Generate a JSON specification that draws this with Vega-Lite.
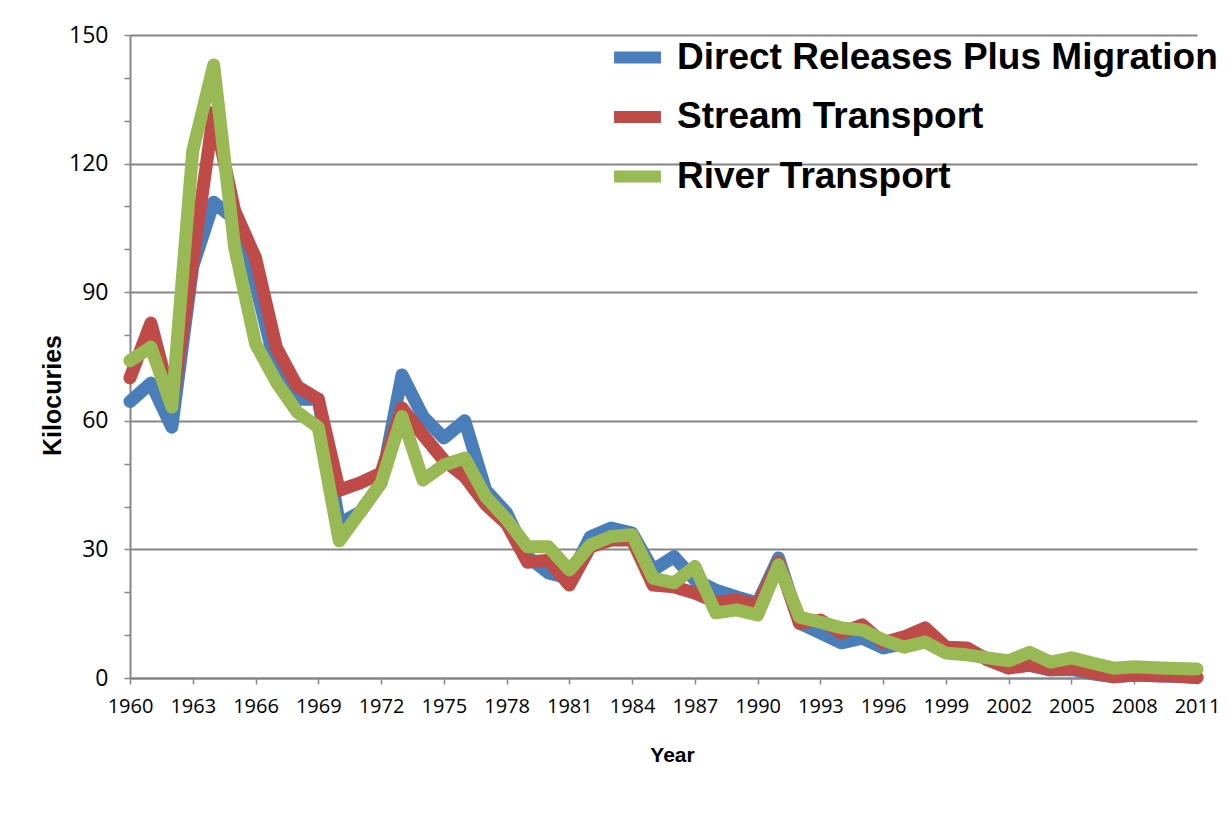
{
  "$schema": "https://vega.github.io/schema/vega-lite/v6.json",
  "autosize": "none",
  "width": 1067,
  "height": 643,
  "padding": {"left": 130, "top": 35, "right": 30, "bottom": 162},
  "background": "white",
  "config": {"view": {"stroke": null}},
  "data": {"values": [
    {"year": 1960, "d": 64.5, "s": 70, "r": 74},
    {"year": 1961, "d": 68.8, "s": 82.8, "r": 77.2},
    {"year": 1962, "d": 58.5, "s": 64, "r": 63.2},
    {"year": 1963, "d": 96, "s": 97, "r": 123},
    {"year": 1964, "d": 111, "s": 132, "r": 143},
    {"year": 1965, "d": 107, "s": 109, "r": 100.5},
    {"year": 1966, "d": 92, "s": 98, "r": 78},
    {"year": 1967, "d": 72, "s": 77, "r": 69},
    {"year": 1968, "d": 65, "s": 68, "r": 62},
    {"year": 1969, "d": 65, "s": 65, "r": 58.5},
    {"year": 1970, "d": 36, "s": 43.8, "r": 32},
    {"year": 1971, "d": 38.7, "s": 45.5, "r": 38.7},
    {"year": 1972, "d": 45.5, "s": 47.8, "r": 45.5},
    {"year": 1973, "d": 70.7, "s": 63, "r": 61},
    {"year": 1974, "d": 61, "s": 56.7, "r": 46.2},
    {"year": 1975, "d": 56, "s": 50.8, "r": 49.7},
    {"year": 1976, "d": 60, "s": 47, "r": 51.3},
    {"year": 1977, "d": 43.8, "s": 40.5, "r": 42.3},
    {"year": 1978, "d": 38.5, "s": 36, "r": 37},
    {"year": 1979, "d": 28.3, "s": 27, "r": 30.6},
    {"year": 1980, "d": 24.5, "s": 27.5, "r": 30.6},
    {"year": 1981, "d": 23.3, "s": 21.7, "r": 25.2},
    {"year": 1982, "d": 32.9, "s": 30.6, "r": 31},
    {"year": 1983, "d": 35, "s": 32.2, "r": 33},
    {"year": 1984, "d": 33.8, "s": 32.2, "r": 33.4},
    {"year": 1985, "d": 25.2, "s": 21.7, "r": 23.3},
    {"year": 1986, "d": 28.3, "s": 21.3, "r": 22.2},
    {"year": 1987, "d": 22.9, "s": 19.8, "r": 26},
    {"year": 1988, "d": 20.5, "s": 17.7, "r": 15.2},
    {"year": 1989, "d": 18.9, "s": 18.2, "r": 15.9},
    {"year": 1990, "d": 17.5, "s": 17, "r": 14.7},
    {"year": 1991, "d": 28, "s": 27, "r": 26.4},
    {"year": 1992, "d": 12.8, "s": 12.8, "r": 14.2},
    {"year": 1993, "d": 10.5, "s": 13.5, "r": 13},
    {"year": 1994, "d": 8.2, "s": 10.5, "r": 11.7},
    {"year": 1995, "d": 9.3, "s": 12.4, "r": 11.2},
    {"year": 1996, "d": 7, "s": 8.2, "r": 8.9},
    {"year": 1997, "d": 8, "s": 9.6, "r": 7.2},
    {"year": 1998, "d": 10.5, "s": 11.7, "r": 8.4},
    {"year": 1999, "d": 7, "s": 7.2, "r": 5.8},
    {"year": 2000, "d": 6.5, "s": 7, "r": 5.4},
    {"year": 2001, "d": 4.5, "s": 4.2, "r": 4.7},
    {"year": 2002, "d": 2.5, "s": 2.3, "r": 4.0},
    {"year": 2003, "d": 3, "s": 3, "r": 6},
    {"year": 2004, "d": 1.9, "s": 1.9, "r": 3.7},
    {"year": 2005, "d": 2, "s": 2.3, "r": 4.7},
    {"year": 2006, "d": 1, "s": 1.2, "r": 3.5},
    {"year": 2007, "d": 0.3, "s": 0.3, "r": 2.3},
    {"year": 2008, "d": 0.7, "s": 0.7, "r": 2.6},
    {"year": 2009, "d": 0.5, "s": 0.5, "r": 2.4},
    {"year": 2010, "d": 0.4, "s": 0.4, "r": 2.2},
    {"year": 2011, "d": 0.2, "s": 0.1, "r": 2.1}
  ]},
  "transform": [
    {"fold": ["d", "s", "r"], "as": ["key", "value"]},
    {"lookup": "key", "from": {"data": {"values": [
      {"key": "d", "series": "Direct Releases Plus Migration"},
      {"key": "s", "series": "Stream Transport"},
      {"key": "r", "series": "River Transport"}
    ]}, "key": "key", "fields": ["series"]}}
  ],
  "encoding": {
    "x": {
      "field": "year", "type": "quantitative",
      "scale": {"domain": [1960, 2011], "nice": false, "zero": false},
      "axis": {
        "title": "Year",
        "values": [1960,1963,1966,1969,1972,1975,1978,1981,1984,1987,1990,1993,1996,1999,2002,2005,2008,2011],
        "format": "d",
        "grid": false,
        "labelOverlap": false,
        "labelFlush": false,
        "labelFont": "Open Sans", "labelFontSize": 20, "labelColor": "#000000",
        "labelPadding": 12,
        "tickSize": 6, "tickColor": "#868686", "tickWidth": 1.5,
        "domainColor": "#868686", "domainWidth": 2,
        "titleFont": "Liberation Sans", "titleFontWeight": "bold", "titleFontSize": 21, "titleColor": "#000000",
        "titleX": 542, "titleY": 77, "titleBaseline": "middle", "titleAlign": "center"
      }
    },
    "y": {
      "field": "value", "type": "quantitative",
      "scale": {"domain": [0, 150], "nice": false},
      "axis": {
        "title": "Kilocuries",
        "values": [0,10,20,30,40,50,60,70,80,90,100,110,120,130,140,150],
        "labelExpr": "datum.value % 30 == 0 ? datum.label : ''",
        "gridOpacity": {"expr": "datum.value % 30 == 0 ? 1 : 0"},
        "gridColor": "#868686", "gridWidth": 2,
        "labelFont": "Open Sans", "labelFontSize": 23, "labelColor": "#000000",
        "labelPadding": 16,
        "tickSize": 6, "tickColor": "#868686", "tickWidth": 1.5,
        "domainColor": "#868686", "domainWidth": 2,
        "titleFont": "Liberation Sans", "titleFontWeight": "bold", "titleFontSize": 25, "titleColor": "#000000",
        "titleX": -78, "titleY": 360, "titleBaseline": "middle", "titleAlign": "center", "titleAngle": -90
      }
    },
    "color": {
      "field": "series", "type": "nominal",
      "scale": {
        "domain": ["Direct Releases Plus Migration", "Stream Transport", "River Transport"],
        "range": ["#4a7ebb", "#be4b48", "#98b954"]
      },
      "legend": {
        "title": null,
        "orient": "none",
        "legendX": 478, "legendY": -7,
        "symbolType": "stroke",
        "symbolSize": 2200,
        "symbolStrokeWidth": 12,
        "labelFont": "Liberation Sans", "labelFontWeight": "bold", "labelFontSize": 37, "labelColor": "#000000",
        "labelOffset": 10,
        "rowPadding": 5.5,
        "labelLimit": 800
      }
    }
  },
  "layer": [
    {"transform": [{"filter": "datum.key == 'd'"}],
     "mark": {"type": "line", "strokeWidth": 13, "strokeJoin": "round", "strokeCap": "round"}},
    {"transform": [{"filter": "datum.key == 's'"}],
     "mark": {"type": "line", "strokeWidth": 13, "strokeJoin": "round", "strokeCap": "round"}},
    {"transform": [{"filter": "datum.key == 'r'"}],
     "mark": {"type": "line", "strokeWidth": 13, "strokeJoin": "round", "strokeCap": "round"}}
  ]
}
